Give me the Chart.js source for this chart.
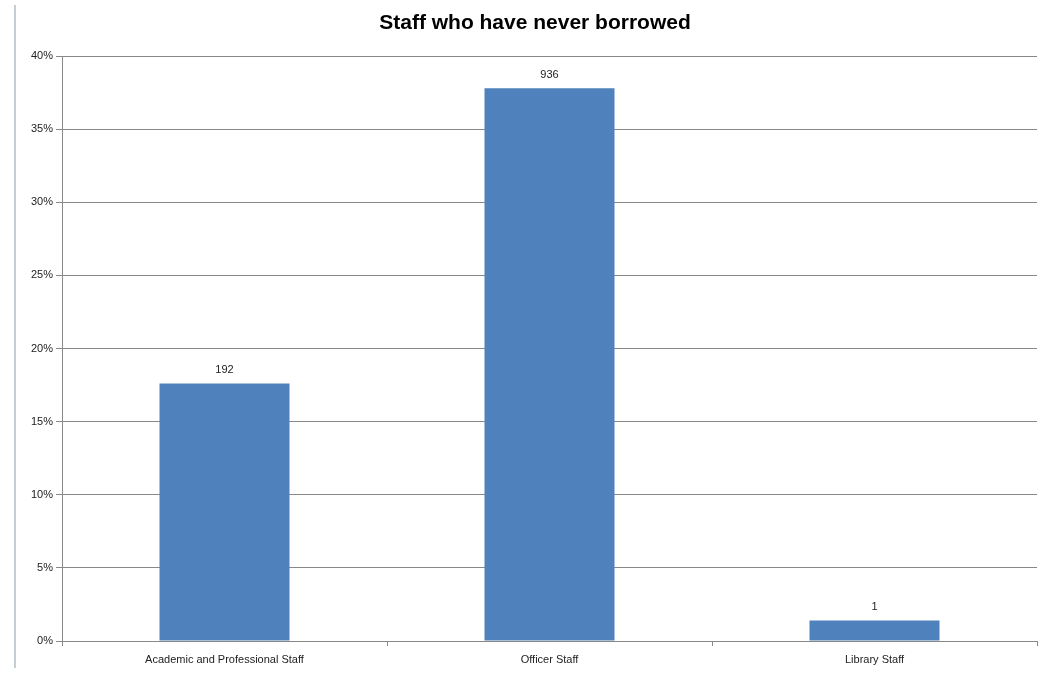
<!DOCTYPE html>
<html><head><meta charset="utf-8">
<script src="https://cdn.jsdelivr.net/npm/chart.js@4/dist/chart.umd.min.js"></script>
<style>html,body{margin:0;padding:0;background:#fff;}canvas{display:block;}</style>
</head><body>
<canvas id="c" width="1040" height="673"></canvas>
<script>
const categories = ["Academic and Professional Staff", "Officer Staff", "Library Staff"];
const percentValues = [17.6, 37.8, 1.4];
const countLabels = ["192", "936", "1"];
const yTicks = [0, 5, 10, 15, 20, 25, 30, 35, 40];
const titleText = 'Staff who have never borrowed';

const FONT = "'Liberation Sans', Arial, sans-serif";

const decor = {
  id: 'decor',
  beforeDraw(chart) {
    const ctx = chart.ctx;
    ctx.save();
    ctx.strokeStyle = '#c3d0d3';
    ctx.lineWidth = 2;
    ctx.beginPath();
    ctx.moveTo(15, 5);
    ctx.lineTo(15, 668);
    ctx.stroke();
    ctx.font = 'bold 21px ' + FONT;
    ctx.fillStyle = '#000';
    ctx.textAlign = 'center';
    ctx.textBaseline = 'middle';
    ctx.fillText(titleText, 535, 23);
    ctx.restore();
  },
  afterDatasetsDraw(chart) {
    const ctx = chart.ctx;
    const meta = chart.getDatasetMeta(0);
    ctx.save();
    ctx.font = '11px ' + FONT;
    ctx.fillStyle = '#222';
    ctx.textAlign = 'center';
    ctx.textBaseline = 'bottom';
    meta.data.forEach((bar, i) => {
      ctx.fillText(countLabels[i], bar.x, bar.y - 8);
    });
    ctx.restore();
  }
};

new Chart(document.getElementById('c'), {
  type: 'bar',
  data: {
    labels: categories,
    datasets: [{
      data: percentValues,
      backgroundColor: '#4f81bd',
      borderWidth: 0,
      categoryPercentage: 0.8,
      barPercentage: 0.5
    }]
  },
  options: {
    responsive: false,
    animation: false,
    layout: { padding: { left: 0, right: 3, top: 56, bottom: 4 } },
    plugins: {
      legend: { display: false },
      tooltip: { enabled: false },
      title: { display: false }
    },
    scales: {
      x: {
        grid: { offset: true, drawOnChartArea: false, drawTicks: true, tickLength: 5, color: '#888' },
        border: { color: '#888', width: 1 },
        ticks: { color: '#222', font: { family: FONT, size: 11 }, padding: 7, maxRotation: 0 },
        afterFit(s) { s.height = 28; }
      },
      y: {
        min: 0, max: 40,
        afterBuildTicks(s) { s.ticks = yTicks.map(v => ({ value: v })); },
        grid: { color: '#888', tickLength: 6, lineWidth: 1 },
        border: { color: '#888', width: 1 },
        ticks: { color: '#222', font: { family: FONT, size: 11 }, padding: 3, callback: v => v + '%' },
        afterFit(s) { s.width = 62; }
      }
    }
  },
  plugins: [decor]
});
</script>
</body></html>
